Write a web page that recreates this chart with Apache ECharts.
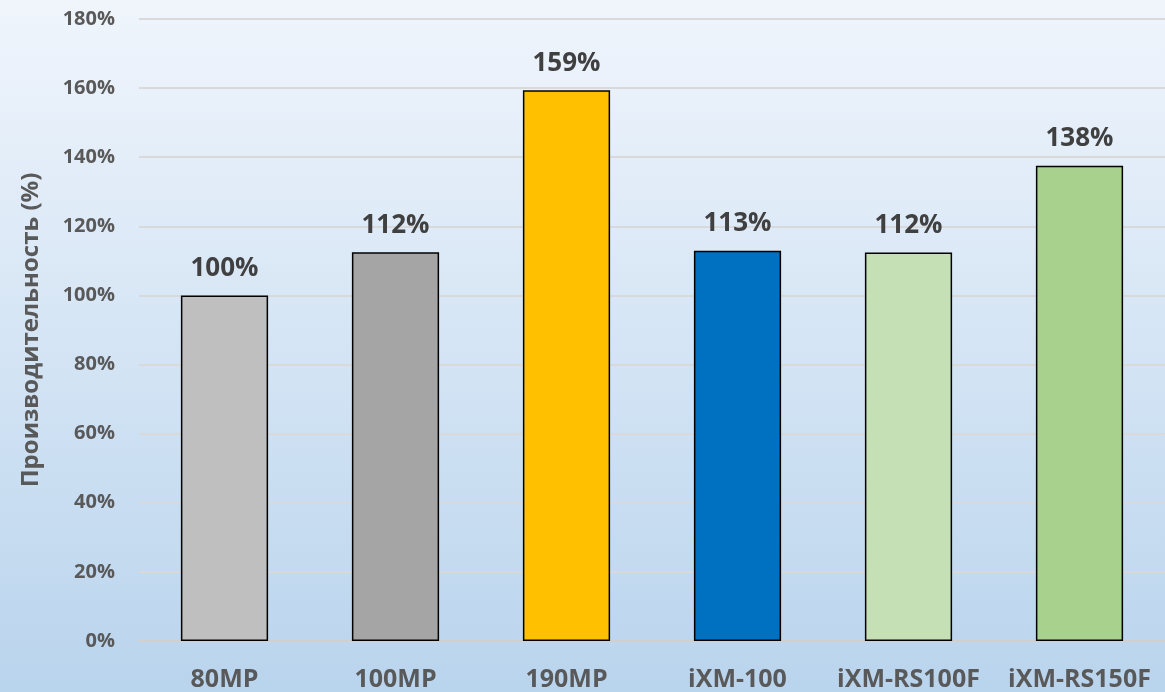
<!DOCTYPE html>
<html><head><meta charset="utf-8">
<script src="https://cdn.jsdelivr.net/npm/echarts@6/dist/echarts.min.js"></script>
<style>html,body{margin:0;padding:0;}#c{width:1165px;height:692px;}</style>
</head><body><div id="c"></div>
<script>
const categories = ['80MP','100MP','190MP','iXM-100','iXM-RS100F','iXM-RS150F'];
const values = [100, 112.5, 159.4, 112.9, 112.4, 137.5];
const labels = ['100%','112%','159%','113%','112%','138%'];
const colors = ['#bfbfbf','#a5a5a5','#ffc000','#0070c0','#c5e0b4','#a9d18e'];
const yAxisName = 'Производительность (%)';
const font = '"Open Sans", "Liberation Sans", sans-serif';
const chart = echarts.init(document.getElementById('c'));
chart.setOption({
  backgroundColor: {type:'linear', x:0, y:0, x2:0, y2:1, colorStops:[{offset:0,color:'#f0f5fc'},{offset:1,color:'#b9d4ed'}]},
  grid: {left:139, right:0, top:19, bottom:51, containLabel:false, outerBoundsMode:'none'},
  xAxis: {type:'category', data:categories,
    axisLine:{show:true, lineStyle:{color:'#d0d0d0', width:2}}, axisTick:{show:false},
    axisLabel:{interval:0, hideOverlap:false, color:'#595959', fontSize:25, fontWeight:'bold', fontFamily:font, margin:26}},
  yAxis: {type:'value', min:0, max:180, interval:20,
    name: yAxisName, nameLocation:'middle', nameGap:96,
    nameTextStyle:{color:'#595959', fontSize:24, fontWeight:'bold', fontFamily:font},
    axisLabel:{formatter:'{value}%', color:'#595959', fontSize:20, fontWeight:'bold', fontFamily:font, margin:24},
    splitLine:{lineStyle:{color:'#d9d9d9', width:2}}},
  series: [{type:'bar', barWidth:'51%',
    data: values.map((v,i)=>({value:v, itemStyle:{color:colors[i]}, label:{formatter:labels[i]}})),
    itemStyle:{borderColor:'#000', borderWidth:1.5},
    label:{show:true, position:'top', distance:14, color:'#404040', fontSize:26, fontWeight:'bold', fontFamily:font}}]
});
</script></body></html>
